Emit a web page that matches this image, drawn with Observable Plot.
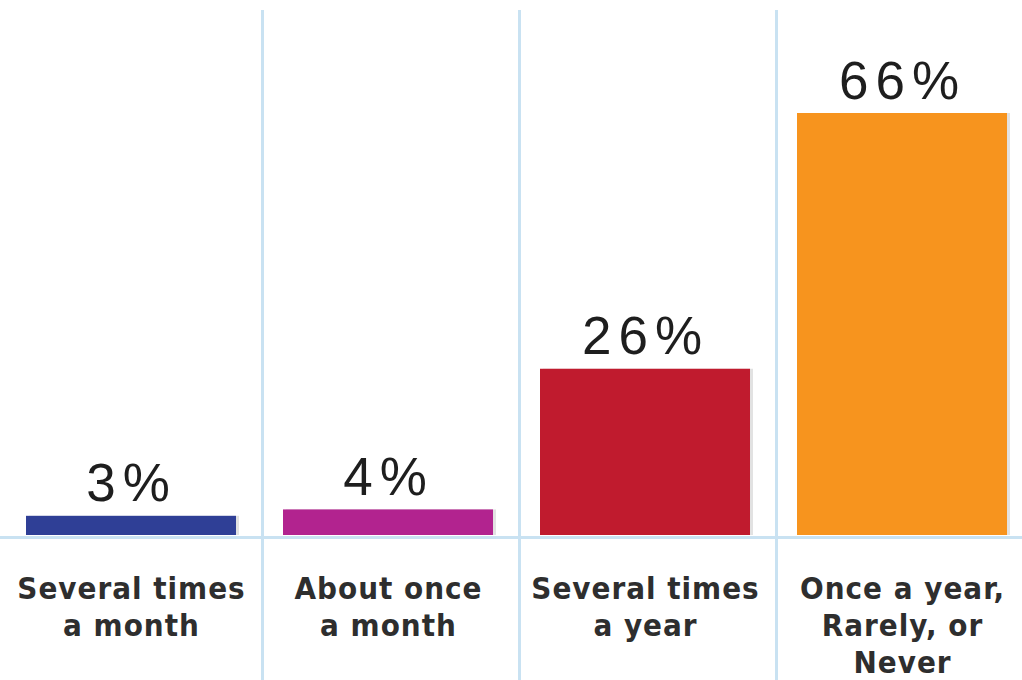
<!DOCTYPE html>
<html>
<head>
<meta charset="utf-8">
<script src="https://cdn.jsdelivr.net/npm/d3@7"></script>
<script src="https://cdn.jsdelivr.net/npm/@observablehq/plot@0.6"></script>
<style>
  html, body { margin: 0; padding: 0; background: #ffffff; }
  #chart { width: 1022px; height: 680px; overflow: hidden; }
</style>
</head>
<body>
<div id="chart"></div>
<script>
const categories = ["Several times\na month", "About once\na month", "Several times\na year", "Once a year,\nRarely, or\nNever"];
const values = [3, 4, 26, 66];
const valueLabels = ["3%", "4%", "26%", "66%"];
const colors = ["#2f3f96", "#b2238f", "#c01b2e", "#f7941e"];

const data = categories.map((c, i) => ({cat: c, value: values[i], label: valueLabels[i], color: colors[i]}));

const chart = Plot.plot({
  width: 1022,
  height: 680,
  marginTop: 10,
  marginBottom: 0,
  marginLeft: 0,
  marginRight: 0,
  style: {background: "#ffffff", overflow: "visible"},
  x: {domain: categories, range: [2, 1030], paddingInner: 0.183, paddingOuter: 0.09, axis: null},
  y: {domain: [0, 66], range: [535, 113], axis: null},
  marks: [
    Plot.ruleX(categories.slice(0, 3), {x: d => d, dx: 131, stroke: "#c9e2f2", strokeWidth: 3}),
    Plot.ruleY([0], {stroke: "#c9e2f2", strokeWidth: 3, dy: 2}),
    Plot.barY(data, {x: "cat", y: "value", fill: "#8a8a8a", fillOpacity: 0.25, dx: 3}),
    Plot.barY(data, {x: "cat", y: "value", fill: "color"}),
    Plot.text(data, {x: "cat", y: "value", text: "label", dy: -15, lineAnchor: "bottom",
      fontSize: 53, fontFamily: "Liberation Sans, Arial, sans-serif", fill: "#1e1e1e"}),
    Plot.text(data, {x: "cat", y: 0, text: "cat", dy: 37, lineAnchor: "top", lineHeight: 1.2,
      fontSize: 31, fontWeight: "bold", fontFamily: "DejaVu Sans Condensed, sans-serif", fill: "#2e2e2e"})
  ]
});

d3.select(chart).selectAll("g[aria-label='text']").each(function(d, i) {
  d3.select(this).style("letter-spacing", i === 0 ? "7px" : "1px");
});

document.getElementById("chart").appendChild(chart);
</script>
</body>
</html>
